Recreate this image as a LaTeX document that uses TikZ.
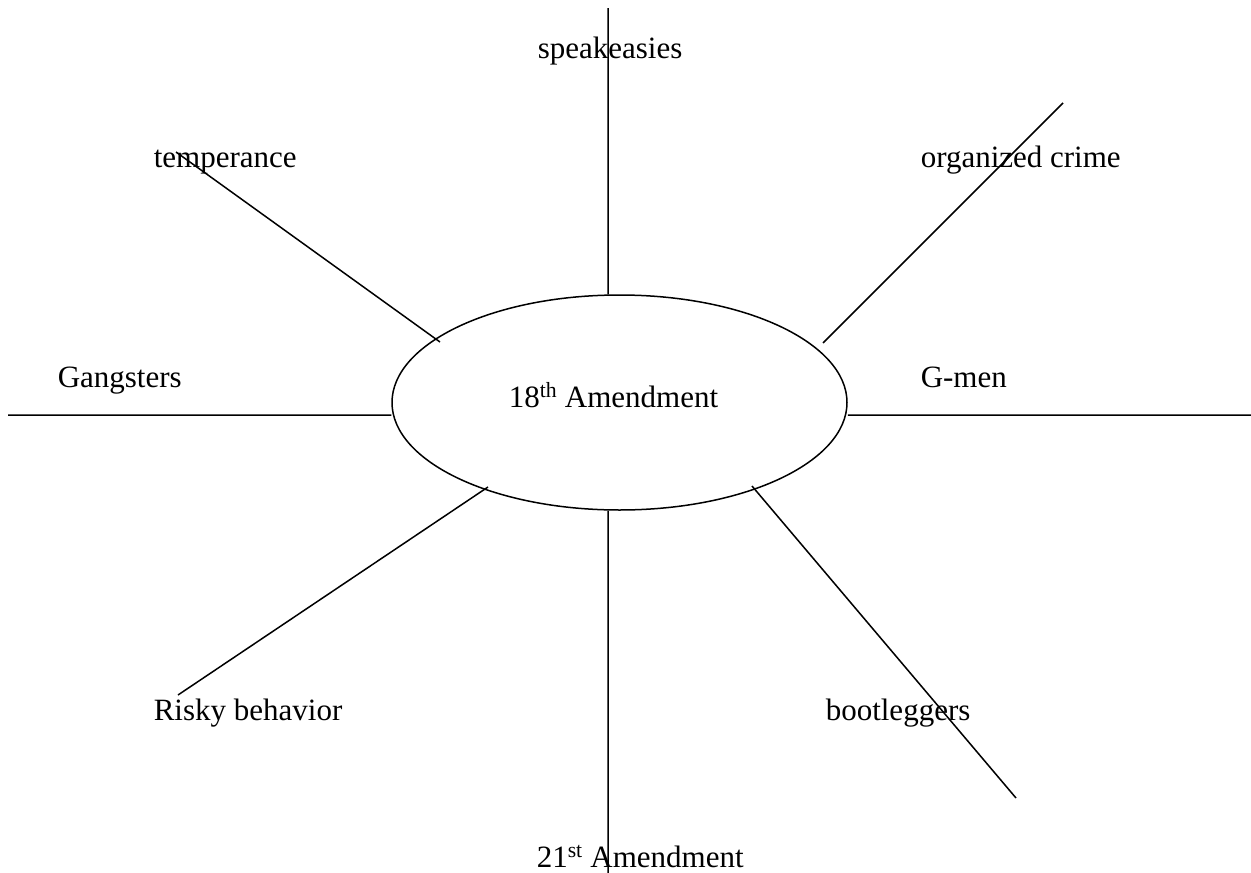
\documentclass[tikz,border=0pt]{standalone}
\usepackage{fontspec}
\setmainfont{Liberation Serif}
\usetikzlibrary{shapes.geometric}
\tikzset{
  every path/.style={line width=1.5pt},
  word/.style={anchor=base west, inner sep=0pt, font=\fontsize{31}{37}\selectfont},
  hub/.style={draw, ellipse, minimum width=455pt, minimum height=215pt, inner sep=0pt},
}

\begin{document}
\begin{tikzpicture}[x=1pt, y=-1pt]
		\useasboundingbox (0,0) rectangle (1251,873);

		% centre
		\node[hub] (amend) at (619.5,402.5) {};
		\node[word] (amendtext) at (508,407) {18\textsuperscript{th} Amendment};

		% labels
		\node[word] (speak) at (537,58) {speakeasies};
		\node[word] (temper) at (153,167) {temperance};
		\node[word] (crime) at (920,167) {organized crime};
		\node[word] (gang) at (57,387) {Gangsters};
		\node[word] (gmen) at (920,387) {G-men};
		\node[word] (risky) at (153,720) {Risky behavior};
		\node[word] (boot) at (825,720) {bootleggers};
		\node[word] (repeal) at (536,867) {21\textsuperscript{st} Amendment};

		% spoke ends
		\coordinate (speak end) at (608,8);
		\coordinate (repeal end) at (608,873);
		\coordinate (gang end) at (8,415);
		\coordinate (gmen end) at (1251,415);
		\coordinate (temper end) at (176,152);
		\coordinate (temper in) at (440,342);
		\coordinate (crime end) at (1063,103);
		\coordinate (crime in) at (823,343);
		\coordinate (risky end) at (178,695);
		\coordinate (risky in) at (488,487);
		\coordinate (boot end) at (1016,798);
		\coordinate (boot in) at (752,486);

		% spokes
		\draw (speak end) -- (speak end |- amend.north)
		(repeal end) -- (repeal end |- amend.south)
		(gang end) -- (gang end -| amend.west)
		(gmen end) -- (gmen end -| amend.east)
		(temper end) -- (temper in)
		(crime end) -- (crime in)
		(risky end) -- (risky in)
		(boot end) -- (boot in);

	\end{tikzpicture}
\end{document}
